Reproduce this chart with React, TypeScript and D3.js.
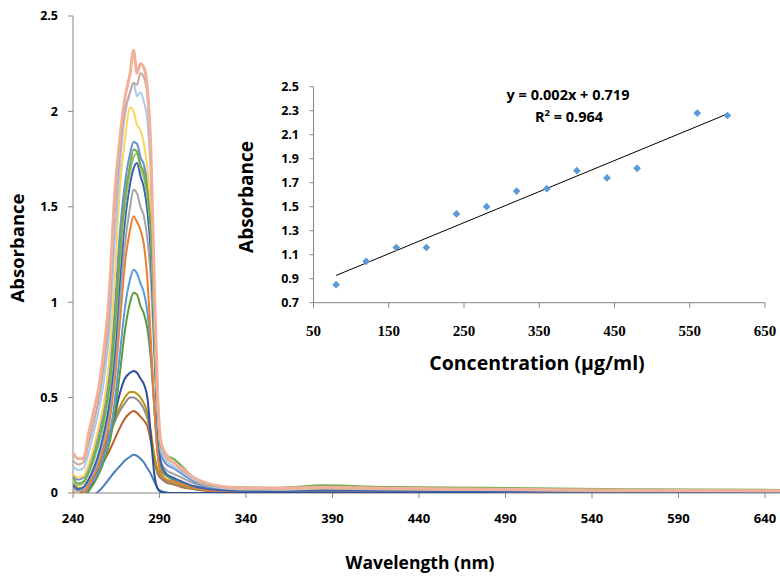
import React from "react";
import * as d3 from "d3";

// ---------- Main spectra data ----------
const WAVELENGTHS = [240, 243, 246, 249, 252, 255, 258, 261, 264, 267, 270, 273, 275, 277, 279, 281, 283, 285, 287, 289, 291, 294, 298, 303, 310, 320, 335, 360, 385, 420, 480, 560, 650];

const S_BLUE_020 = [-0.12, -0.09, -0.06, -0.03, -0.01, 0.01, 0.04, 0.075, 0.11, 0.14, 0.17, 0.19, 0.2, 0.195, 0.18, 0.16, 0.13, 0.1, 0.06, 0.025, 0.01, 0.003, 0, 0, 0, 0, 0, 0, 0.001, 0, 0, 0, 0];
const S_BROWN_043 = [-0.01, -0.02, 0.02, 0.05, 0.08, 0.12, 0.17, 0.22, 0.28, 0.34, 0.39, 0.42, 0.43, 0.42, 0.4, 0.38, 0.35, 0.27, 0.17, 0.1, 0.075, 0.055, 0.045, 0.03, 0.02, 0.01, 0.007, 0.007, 0.009, 0.007, 0.006, 0.004, 0.003];
const S_GRAY_050 = [0.03, 0.01, 0.02, 0.06, 0.11, 0.17, 0.23, 0.3, 0.37, 0.43, 0.47, 0.5, 0.5, 0.49, 0.47, 0.44, 0.39, 0.3, 0.19, 0.11, 0.08, 0.06, 0.05, 0.035, 0.022, 0.013, 0.009, 0.009, 0.011, 0.009, 0.007, 0.005, 0.004];
const S_GOLD_053 = [0.05, 0.025, 0.03, 0.07, 0.12, 0.18, 0.25, 0.32, 0.39, 0.45, 0.5, 0.53, 0.53, 0.52, 0.5, 0.47, 0.42, 0.32, 0.2, 0.12, 0.09, 0.07, 0.055, 0.04, 0.025, 0.015, 0.01, 0.01, 0.012, 0.01, 0.008, 0.006, 0.005];
const S_NAVY_064 = [-0.12, -0.08, -0.04, 0.01, 0.07, 0.14, 0.22, 0.3, 0.4, 0.52, 0.6, 0.63, 0.64, 0.63, 0.6, 0.57, 0.5, 0.3, 0.1, 0.02, 0.005, 0, 0, 0, 0, 0, 0.002, 0.002, 0.003, 0.002, 0.002, 0.001, 0.001];
const S_GREEN_105 = [-0.02, -0.04, -0.03, 0.01, 0.05, 0.1, 0.17, 0.26, 0.41, 0.62, 0.85, 1.0, 1.05, 1.04, 0.98, 0.94, 0.86, 0.7, 0.45, 0.22, 0.12, 0.09, 0.07, 0.05, 0.035, 0.02, 0.012, 0.012, 0.018, 0.014, 0.012, 0.01, 0.008];
const S_BLUE_117 = [0.0, -0.02, -0.01, 0.03, 0.07, 0.12, 0.2, 0.3, 0.47, 0.72, 0.97, 1.12, 1.17, 1.15, 1.1, 1.05, 0.95, 0.75, 0.45, 0.2, 0.1, 0.07, 0.06, 0.045, 0.03, 0.015, 0.01, 0.01, 0.015, 0.012, 0.01, 0.008, 0.006];
const S_ORANGE_145 = [0.01, -0.01, 0.0, 0.04, 0.09, 0.15, 0.24, 0.37, 0.58, 0.88, 1.2, 1.38, 1.45, 1.42, 1.38, 1.3, 1.12, 0.8, 0.45, 0.2, 0.1, 0.07, 0.06, 0.045, 0.03, 0.015, 0.01, 0.01, 0.015, 0.012, 0.01, 0.008, 0.006];
const S_GRAY_159 = [0.03, 0.01, 0.02, 0.06, 0.11, 0.18, 0.28, 0.42, 0.65, 0.98, 1.3, 1.5, 1.59, 1.57, 1.5, 1.45, 1.33, 1.12, 0.72, 0.33, 0.16, 0.12, 0.1, 0.08, 0.05, 0.025, 0.016, 0.014, 0.02, 0.016, 0.013, 0.01, 0.008];
const S_DBLUE_173 = [0.04, 0.02, 0.03, 0.07, 0.13, 0.21, 0.32, 0.47, 0.72, 1.1, 1.42, 1.62, 1.7, 1.73, 1.66, 1.6, 1.48, 1.25, 0.8, 0.35, 0.15, 0.1, 0.08, 0.06, 0.035, 0.02, 0.012, 0.01, 0.015, 0.012, 0.01, 0.008, 0.006];
const S_LGREEN_178 = [0.06, 0.04, 0.05, 0.1, 0.17, 0.26, 0.37, 0.53, 0.8, 1.2, 1.5, 1.68, 1.76, 1.78, 1.7, 1.65, 1.55, 1.35, 0.88, 0.42, 0.22, 0.18, 0.16, 0.12, 0.07, 0.035, 0.025, 0.022, 0.03, 0.025, 0.02, 0.015, 0.012];
const S_GREEN_180 = [0.08, 0.05, 0.06, 0.11, 0.19, 0.28, 0.4, 0.56, 0.85, 1.25, 1.55, 1.72, 1.8, 1.79, 1.72, 1.68, 1.58, 1.38, 0.92, 0.45, 0.24, 0.2, 0.18, 0.14, 0.08, 0.04, 0.03, 0.028, 0.04, 0.032, 0.028, 0.02, 0.016];
const S_BLUE_184 = [0.09, 0.07, 0.08, 0.14, 0.22, 0.32, 0.45, 0.63, 0.95, 1.35, 1.62, 1.78, 1.84, 1.83, 1.76, 1.72, 1.62, 1.4, 0.9, 0.42, 0.2, 0.15, 0.13, 0.1, 0.06, 0.03, 0.02, 0.017, 0.022, 0.018, 0.015, 0.011, 0.009];
const S_YELLOW_205 = [0.1, 0.08, 0.09, 0.15, 0.24, 0.35, 0.48, 0.7, 1.1, 1.58, 1.85, 2.02, 2.0, 1.93, 1.9, 1.83, 1.7, 1.45, 0.9, 0.42, 0.22, 0.18, 0.16, 0.12, 0.07, 0.035, 0.02, 0.018, 0.025, 0.02, 0.016, 0.012, 0.01];
const S_LBLUE_215 = [0.14, 0.12, 0.13, 0.21, 0.32, 0.44, 0.6, 0.85, 1.3, 1.7, 1.98, 2.1, 2.15, 2.08, 2.1, 2.05, 1.95, 1.65, 1.0, 0.45, 0.22, 0.17, 0.14, 0.11, 0.07, 0.035, 0.022, 0.02, 0.028, 0.022, 0.018, 0.013, 0.01];
const S_ROSE_220 = [0.17, 0.15, 0.16, 0.26, 0.37, 0.5, 0.68, 0.95, 1.45, 1.78, 2.0, 2.1, 2.15, 2.14, 2.2, 2.18, 2.08, 1.75, 1.05, 0.48, 0.25, 0.19, 0.16, 0.12, 0.08, 0.04, 0.026, 0.022, 0.03, 0.024, 0.02, 0.014, 0.01];
const S_SALMON_232 = [0.21, 0.18, 0.18, 0.31, 0.43, 0.56, 0.76, 1.05, 1.55, 1.85, 2.07, 2.2, 2.32, 2.2, 2.25, 2.23, 2.12, 1.8, 1.1, 0.5, 0.26, 0.2, 0.16, 0.13, 0.08, 0.045, 0.028, 0.025, 0.03, 0.025, 0.02, 0.015, 0.012];

const SPECTRA = [S_BLUE_020, S_BROWN_043, S_GRAY_050, S_GOLD_053, S_NAVY_064, S_GREEN_105, S_BLUE_117, S_ORANGE_145, S_GRAY_159, S_DBLUE_173, S_LGREEN_178, S_BLUE_184, S_YELLOW_205, S_LBLUE_215, S_ROSE_220, S_GREEN_180, S_SALMON_232];
const SPECTRA_COLORS = ["#4A7FBF", "#B8622A", "#8C8C8C", "#B8960C", "#2E4E9A", "#5A9A3A", "#5B9BD5", "#ED7D31", "#A5A5A5", "#3B62B5", "#9CC07A", "#6A8ED2", "#FFD45C", "#A9C8EA", "#C4A6A2", "#6FAE4A", "#F2B09A"];

const X_TICKS = [240, 290, 340, 390, 440, 490, 540, 590, 640];
const Y_TICKS = [0, 0.5, 1, 1.5, 2, 2.5];

// ---------- Inset calibration data ----------
const CONC = [80, 120, 160, 200, 240, 280, 320, 360, 400, 440, 480, 560, 600];
const ABS = [0.85, 1.045, 1.16, 1.16, 1.44, 1.5, 1.63, 1.65, 1.8, 1.74, 1.82, 2.28, 2.26];
const INSET_X_TICKS = [50, 150, 250, 350, 450, 550, 650];
const INSET_Y_TICKS = [0.7, 0.9, 1.1, 1.3, 1.5, 1.7, 1.9, 2.1, 2.3, 2.5];

const SANS = "'Open Sans', Lato, sans-serif";
const SERIF = "'Liberation Serif', 'DejaVu Serif', serif";
const AXIS = "#868686";

export default function App() {
  const x = d3.scaleLinear().domain([240, 650]).range([73, 782.3]);
  const y = d3.scaleLinear().domain([0, 2.5]).range([493, 16]);
  const line = d3
    .line<number>()
    .x((_, i) => x(WAVELENGTHS[i]))
    .y((d) => y(d))
    .curve(d3.curveMonotoneX);

  const ix = d3.scaleLinear().domain([50, 650]).range([313.5, 765]);
  const iy = d3.scaleLinear().domain([0.7, 2.5]).range([302.7, 86.7]);

  // least-squares trend line
  const mx = d3.mean(CONC)!;
  const my = d3.mean(ABS)!;
  let sxy = 0, sxx = 0;
  CONC.forEach((c, i) => { sxy += (c - mx) * (ABS[i] - my); sxx += (c - mx) * (c - mx); });
  const slope = sxy / sxx;
  const intercept = my - slope * mx;
  const xMin = d3.min(CONC)!;
  const xMax = d3.max(CONC)!;

  const marker = d3.symbol().type(d3.symbolSquare).size(30)();

  return (
    <svg width={780} height={577} style={{ position: "absolute", left: 0, top: 0, background: "#fff" }}>
      <defs>
        <clipPath id="plotClip">
          <rect x={73} y={10} width={710} height={483} />
        </clipPath>
      </defs>
      <rect x={0} y={0} width={780} height={577} fill="#fff" />

      {/* main axes */}
      <line x1={73} x2={73} y1={y(2.5)} y2={y(0)} stroke={AXIS} strokeWidth={1} />
      <line x1={73} x2={782} y1={y(0)} y2={y(0)} stroke={AXIS} strokeWidth={1} />
      {Y_TICKS.map((t) => (
        <g key={"yt" + t}>
          <line x1={68} x2={73} y1={y(t)} y2={y(t)} stroke={AXIS} />
          <text x={58} y={y(t)} dy="0.35em" textAnchor="end" fontFamily={SANS} fontWeight={700} fontSize={12.5} fill="#000">
            {t}
          </text>
        </g>
      ))}
      {X_TICKS.map((t) => (
        <g key={"xt" + t}>
          <line x1={x(t)} x2={x(t)} y1={493} y2={498} stroke={AXIS} />
          <text x={x(t)} y={523} textAnchor="middle" fontFamily={SANS} fontWeight={700} fontSize={13} fill="#000">
            {t}
          </text>
        </g>
      ))}
      <text x={420} y={569} textAnchor="middle" fontFamily={SANS} fontWeight={700} fontSize={17.5} fill="#000">
        Wavelength (nm)
      </text>
      <text transform={`translate(24,248) rotate(-90)`} textAnchor="middle" fontFamily={SANS} fontWeight={700} fontSize={18.5} fill="#000">
        Absorbance
      </text>

      {/* spectra */}
      <g clipPath="url(#plotClip)">
        {SPECTRA.map((s, i) => (
          <path
            key={"s" + i}
            d={line(s) || ""}
            fill="none"
            stroke={SPECTRA_COLORS[i]}
            strokeWidth={i === SPECTRA.length - 1 ? 3 : 2}
            strokeLinejoin="round"
          />
        ))}
      </g>

      {/* inset */}
      <line x1={ix(50)} x2={ix(50)} y1={iy(2.5)} y2={iy(0.7)} stroke={AXIS} />
      <line x1={ix(50)} x2={ix(650)} y1={iy(0.7)} y2={iy(0.7)} stroke={AXIS} />
      {INSET_Y_TICKS.map((t) => (
        <g key={"iyt" + t}>
          <line x1={ix(50) - 4} x2={ix(50)} y1={iy(t)} y2={iy(t)} stroke={AXIS} />
          <text x={299} y={iy(t)} dy="0.35em" textAnchor="end" fontFamily={SANS} fontWeight={700} fontSize={12.5} fill="#000">
            {t.toFixed(1)}
          </text>
        </g>
      ))}
      {INSET_X_TICKS.map((t) => (
        <g key={"ixt" + t}>
          <line x1={ix(t)} x2={ix(t)} y1={iy(0.7)} y2={iy(0.7) + 5} stroke={AXIS} />
          <text x={ix(t)} y={336} textAnchor="middle" fontFamily={SERIF} fontWeight={700} fontSize={15} fill="#000">
            {t}
          </text>
        </g>
      ))}
      <text x={537} y={370} textAnchor="middle" fontFamily={SANS} fontWeight={700} fontSize={19.5} fill="#000">
        Concentration (μg/ml)
      </text>
      <text transform={`translate(253,197) rotate(-90)`} textAnchor="middle" fontFamily={SANS} fontWeight={700} fontSize={19} fill="#000">
        Absorbance
      </text>

      <line x1={ix(xMin)} x2={ix(xMax)} y1={iy(intercept + slope * xMin)} y2={iy(intercept + slope * xMax)} stroke="#000" strokeWidth={1} />
      {CONC.map((c, i) => (
        <path key={"pt" + i} d={marker || ""} transform={`translate(${ix(c)},${iy(ABS[i])}) rotate(45)`} fill="#5B9BD5" />
      ))}

      <text x={568} y={100} textAnchor="middle" fontFamily={SANS} fontWeight={700} fontSize={14.5} fill="#000">
        y = 0.002x + 0.719
      </text>
      <text x={569} y={122} textAnchor="middle" fontFamily={SANS} fontWeight={700} fontSize={14.5} fill="#000">
        R<tspan dy={-6} fontSize={9.5}>2</tspan>
        <tspan dy={6}> = 0.964</tspan>
      </text>
    </svg>
  );
}
